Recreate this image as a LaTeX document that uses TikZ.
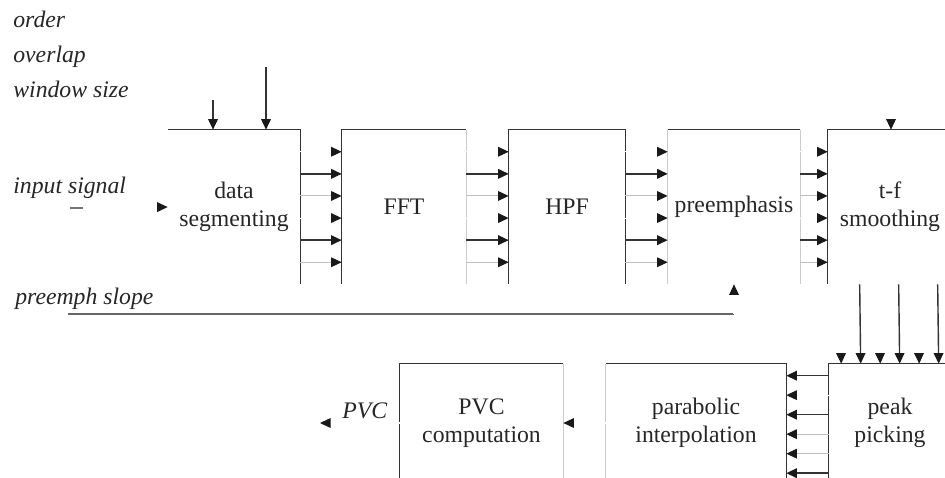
\documentclass[tikz,border=0pt]{standalone}
\usepackage{fontspec}
\setmainfont{Liberation Serif}
\usetikzlibrary{arrows.meta,calc,positioning}

\begin{document}
\begin{tikzpicture}[
x=0.02cm, y=-0.02cm,
Block/.style={rectangle,draw=none,align=center,inner sep=0pt,text=black!85,
  font=\fontsize{13.5}{16}\selectfont},
Label/.style={anchor=base west,inner sep=0pt,text=black!85,
  font=\fontsize{13.5}{16}\selectfont\itshape},
Frame/.style={draw=black!80,line width=0.8pt},
FaintFrame/.style={draw=black!20,line width=0.6pt},
Wire/.style={draw=black!80,line width=0.8pt,
  -{Triangle[length=6pt,width=5.5pt,color=black!90]}},
ThinWire/.style={draw=black!25,line width=0.6pt,
  -{Triangle[length=6pt,width=5.5pt,color=black!90]}},
NoWire/.style={draw=white,line width=0.6pt,
  -{Triangle[length=6pt,width=5.5pt,color=black!90]}}
]
\useasboundingbox (0,0) rectangle (945,477);
\clip (0,0) rectangle (945,477);

% parameters
\node[Label] (order) at (13,27) {order};
\node[Label] (overlap) at (13,62) {overlap};
\node[Label] (wsize) at (13,97) {window size};
\node[Label] (insig) at (13,193) {input signal};
\node[Label] (slopelab) at (15,304) {preemph slope};

% upper chain
\node[Block,minimum width=2.64cm,minimum height=3.08cm] (dseg) at (234,207) {data\\segmenting};
\node[Block,minimum width=2.48cm,minimum height=3.08cm] (fft) at (404,207) {FFT};
\node[Block,minimum width=2.32cm,minimum height=3.08cm] (hpf) at (567,207) {HPF};
\node[Block,minimum width=2.64cm,minimum height=3.08cm] (pre) at (734,207) {preemphasis};
\node[Block,minimum width=2.48cm,minimum height=3.08cm] (tf) at (890,207) {t-f\\smoothing};

% lower chain
\node[Block,minimum width=3.26cm,minimum height=2.36cm] (pvc) at (481.5,423) {PVC\\computation};
\node[Block,minimum width=3.6cm,minimum height=2.36cm] (parab) at (696,423) {parabolic\\interpolation};
\node[Block,minimum width=2.44cm,minimum height=2.36cm] (peak) at (890,423) {peak\\picking};

% visible box edges
\draw[Frame] (dseg.north west) -- (dseg.north east) -- (dseg.south east);
\draw[Frame] (fft.south west) -- (fft.north west) -- (fft.north east);
\draw[FaintFrame] (fft.north east) -- (fft.south east);
\draw[Frame] (hpf.south west) -- (hpf.north west) -- (hpf.north east) -- (hpf.south east);
\draw[Frame] (pre.north west) -- (pre.north east);
\draw[FaintFrame] (pre.north west) -- (pre.south west) (pre.north east) -- (pre.south east);
\draw[Frame] (tf.south west) -- (tf.north west) -- (tf.north east);
\draw[Frame] (pvc.south west) -- (pvc.north west) -- (pvc.north east);
\draw[FaintFrame] (pvc.north east) -- (pvc.south east);
\draw[Frame] (parab.north west) -- (parab.north east) -- (parab.south east);
\draw[FaintFrame] (parab.north west) -- (parab.south west);
\draw[Frame] (peak.south west) -- (peak.north west) -- (peak.north east);

% inputs
\coordinate (ovl) at (213,100);
\coordinate (win) at (266,67);
\coordinate (ord) at (891,100);
\draw[Wire] (ovl) -- (ovl |- dseg.north);
\draw[Wire] (win) -- (win |- dseg.north);
\draw[NoWire] (ord) -- (ord |- tf.north);

\coordinate (sig) at (70,208);
\draw[NoWire] (sig) -- (dseg.west);
\draw[draw=black!55,line width=0.6pt] (sig) -- ++(13,0);

\coordinate (slope) at (68,314);
\draw[draw=black!60,line width=0.7pt] (slope) -- (slope -| pre.south);
\draw[NoWire] (slope -| pre.south) -- (pre.south);

% six channel bus between blocks
\foreach \a/\b in {dseg/fft,fft/hpf,hpf/pre,pre/tf}
  \foreach \k/\s in {1/NoWire,2/Wire,3/ThinWire,4/NoWire,5/Wire,6/ThinWire}
    \draw[\s] ($(\a.north east)!\k/7!(\a.south east)$) -- ($(\b.north west)!\k/7!(\b.south west)$);

\foreach \k/\s in {1/NoWire,2/Wire,3/NoWire,4/Wire,5/NoWire,6/Wire}
  \draw[\s] ($(tf.south west)+({12.5+19.5*(\k-1)},0)$) -- ($(peak.north west)+({12.5+19.5*(\k-1)},0)$);

\foreach \k/\s in {1/Wire,2/NoWire,3/Wire,4/ThinWire,5/ThinWire,6/Wire}
  \draw[\s] ($(peak.north west)+(0,{12+19.5*(\k-1)})$) -- ($(parab.north east)+(0,{12+19.5*(\k-1)})$);

% output
\draw[NoWire] (parab.west) -- (pvc.east);
\coordinate (out) at (320,423);
\draw[NoWire] (pvc.west) -- (out);
\node[Label] (pvclab) at (342,418) {PVC};

\end{tikzpicture}
\end{document}
